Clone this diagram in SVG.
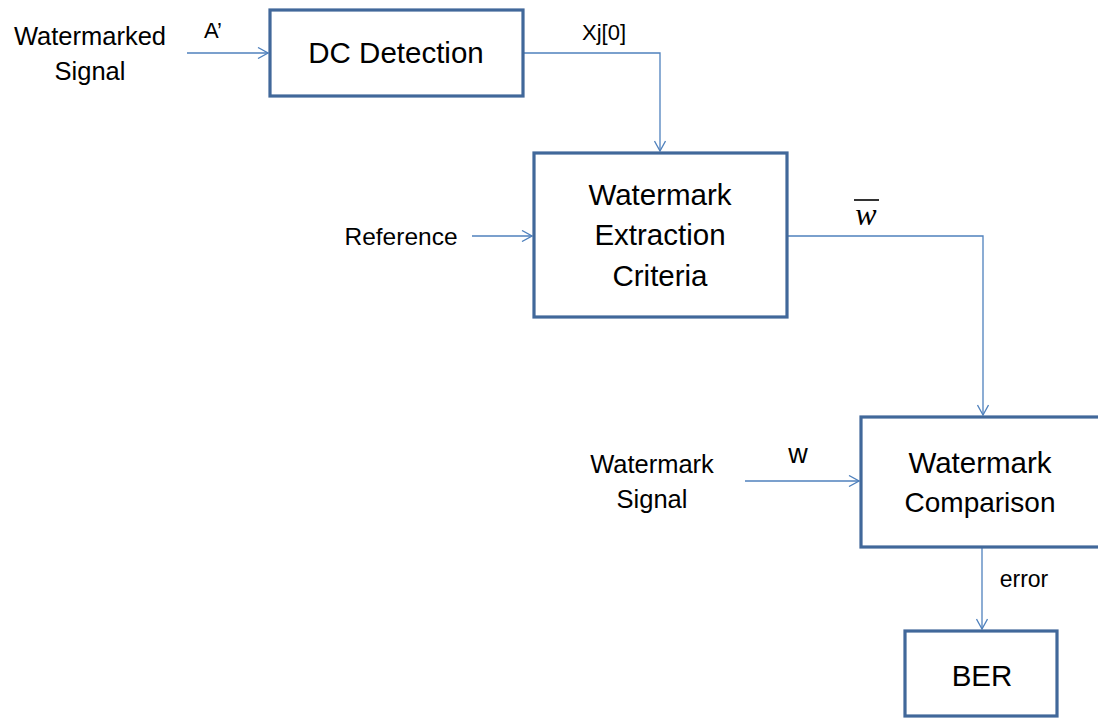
<svg xmlns="http://www.w3.org/2000/svg" width="1098" height="719" viewBox="0 0 1098 719">
  <style>
    .box { fill: #ffffff; stroke: #41689A; stroke-width: 3.2; }
    .wire { fill: none; stroke: #4F81BD; stroke-width: 1.3; marker-end: url(#arrow); }
    text { font-family: "Liberation Sans", Arial, sans-serif; fill: #000000; }
    .big { font-size: 29.5px; text-anchor: middle; }
    .mid { font-size: 25.5px; text-anchor: middle; }
    .small { font-size: 22px; text-anchor: middle; }
  </style>
  <defs>
    <marker id="arrow" viewBox="0 0 12 12" refX="11" refY="6" markerWidth="12" markerHeight="12" markerUnits="userSpaceOnUse" orient="auto">
      <path d="M1,0.5 L11,6 L1,11.5" fill="none" stroke="#4F81BD" stroke-width="1.3"/>
    </marker>
  </defs>

  <rect width="1098" height="719" fill="#ffffff"/>

  <!-- connectors -->
  <g id="connectors">
    <path class="wire" d="M187,53 H268"/>
    <path class="wire" d="M523,53 H660 V151"/>
    <path class="wire" d="M472,236 H532"/>
    <path class="wire" d="M787,236 H983 V415"/>
    <path class="wire" d="M745,481 H859"/>
    <path class="wire" d="M982,548 V629"/>
  </g>

  <!-- free labels -->
  <g id="input-watermarked">
    <text class="mid" x="90" y="45">Watermarked</text>
    <text class="mid" x="90" y="80">Signal</text>
  </g>
  <text class="small" x="213" y="38">A’</text>
  <text class="small" x="604" y="40">Xj[0]</text>
  <text class="mid" x="401" y="245" style="font-size:24.5px">Reference</text>
  <text x="866" y="225" style="font-family:'Liberation Serif','DejaVu Serif',serif;font-style:italic;font-size:32px;text-anchor:middle">w</text>
  <line x1="854" y1="200" x2="879" y2="200" stroke="#000000" stroke-width="1.6"/>
  <g id="input-watermark">
    <text class="mid" x="652" y="473">Watermark</text>
    <text class="mid" x="652" y="508">Signal</text>
  </g>
  <text class="mid" x="798" y="463" style="font-size:27px">w</text>
  <text class="small" x="1024" y="587" style="font-size:23px">error</text>

  <!-- nodes -->
  <g id="dc-detection">
    <rect class="box" x="270" y="10" width="253" height="86"/>
    <text class="big" x="396" y="63">DC Detection</text>
  </g>
  <g id="extraction">
    <rect class="box" x="534" y="153" width="253" height="164"/>
    <text class="big" x="660" y="205">Watermark</text>
    <text class="big" x="660" y="245">Extraction</text>
    <text class="big" x="660" y="286">Criteria</text>
  </g>
  <g id="comparison">
    <rect class="box" x="861" y="417" width="245" height="130"/>
    <text class="big" x="980" y="473">Watermark</text>
    <text class="big" x="980" y="512" style="font-size:28px">Comparison</text>
  </g>
  <g id="ber">
    <rect class="box" x="905" y="631" width="152" height="85"/>
    <text class="big" x="982" y="686">BER</text>
  </g>
</svg>
